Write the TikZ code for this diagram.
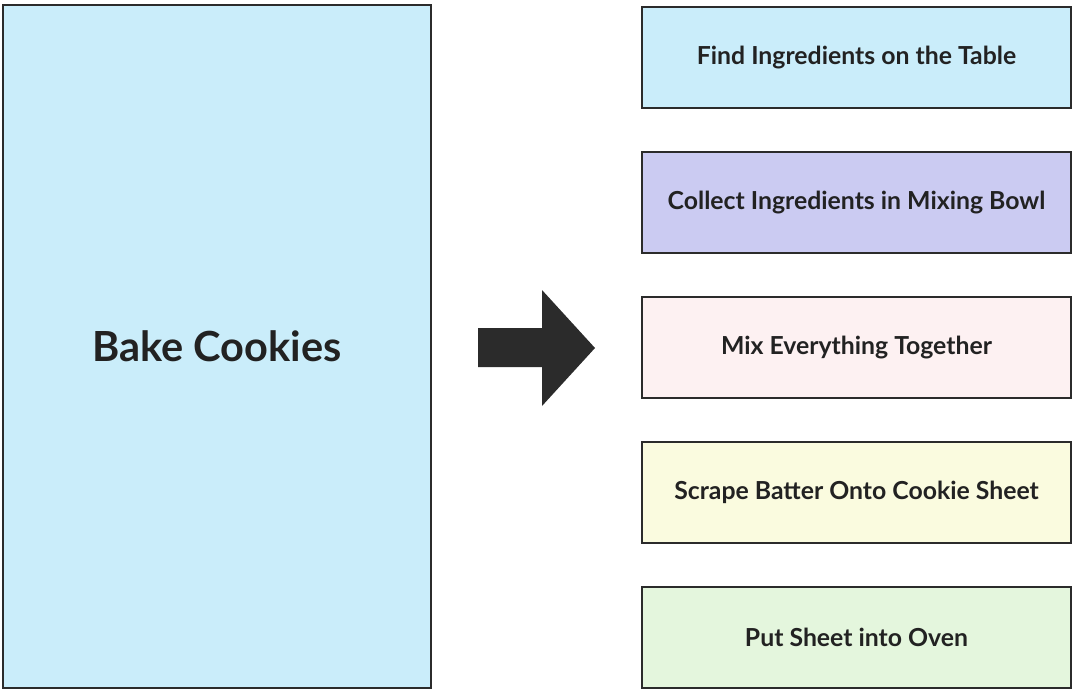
\documentclass[tikz,border=0pt]{standalone}
\usepackage{fontspec}
\setmainfont{Lato}
\begin{document}
\begin{tikzpicture}[x=1pt,y=-1pt,
  frame/.style={draw=boxline,line width=2pt,inner sep=0pt},
  task/.style={frame,minimum width=429pt,minimum height=101pt,
    font=\bfseries\fontsize{24.8}{28}\selectfont,text=ink},
]
\definecolor{boxline}{HTML}{2B2B2B}
\definecolor{ink}{HTML}{222222}
\definecolor{skyfill}{HTML}{CAEDFA}
\definecolor{lavfill}{HTML}{CBCBF2}
\definecolor{pinkfill}{HTML}{FDF1F2}
\definecolor{lemonfill}{HTML}{FAFBDF}
\definecolor{mintfill}{HTML}{E4F6DD}
\useasboundingbox (0,0) rectangle (1073,690);
% main task
\node[frame,fill=skyfill,minimum width=428pt,minimum height=683pt,
  font=\bfseries\fontsize{41.5}{46}\selectfont,text=ink] (main) at (217,346.5) {Bake Cookies};
% decomposition arrow
\fill[boxline] (478,328) -- (542,328) -- (542,290) -- (595,348) -- (542,406) -- (542,367) -- (478,367) -- cycle;
% sub-tasks
\node[task,fill=skyfill]   (t1) at (856.5,57.5)  {Find Ingredients on the Table};
\node[task,fill=lavfill]   (t2) at (856.5,202.5) {Collect Ingredients in Mixing Bowl};
\node[task,fill=pinkfill]  (t3) at (856.5,347.5) {Mix Everything Together};
\node[task,fill=lemonfill] (t4) at (856.5,492.5) {Scrape Batter Onto Cookie Sheet};
\node[task,fill=mintfill]  (t5) at (856.5,637.5) {Put Sheet into Oven};
\end{tikzpicture}
\end{document}
